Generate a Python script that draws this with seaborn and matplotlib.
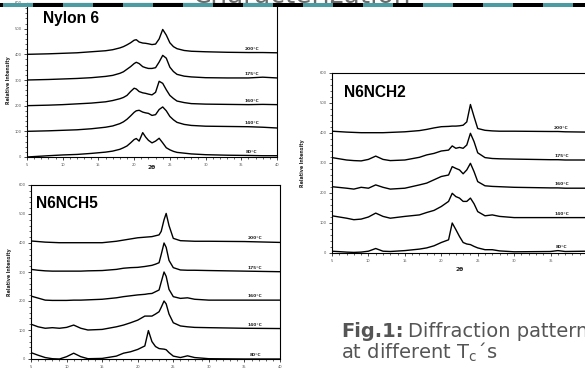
import numpy as np
import pandas as pd
import matplotlib
matplotlib.use("Agg")
import matplotlib.pyplot as plt
import seaborn as sns
from matplotlib.ticker import MultipleLocator
from matplotlib.patches import Rectangle

sns.set_theme(style="ticks")
plt.rcParams['font.family'] = ['DejaVu Sans']

# ---------------- data ----------------
TEMPS = ["200°C", "175°C", "160°C", "140°C", "80°C"]

# Nylon 6
X_NY = [5, 8, 10, 12, 14, 16, 17, 18, 18.5, 19, 19.5, 20, 20.3, 20.7, 21.2, 21.6,
        22, 22.5, 23, 23.5, 24, 24.5, 25, 25.5, 26, 27, 28, 30, 33, 36, 38, 40]
NY_200 = [400, 402, 404, 406, 410, 414, 418, 425, 430, 437, 445, 455, 457, 448, 444, 443,
          441, 438, 440, 460, 497, 475, 445, 430, 422, 415, 412, 410, 408, 407, 407, 406]
NY_175 = [300, 302, 304, 306, 309, 314, 318, 326, 332, 342, 352, 364, 369, 364, 352, 348,
          345, 345, 348, 370, 396, 385, 350, 333, 322, 315, 312, 309, 308, 308, 311, 308]
NY_160 = [200, 202, 204, 207, 210, 215, 220, 227, 232, 240, 255, 268, 265, 255, 250, 248,
          245, 242, 252, 295, 287, 262, 240, 228, 218, 212, 208, 206, 205, 204, 205, 204]
NY_140 = [100, 102, 104, 106, 110, 116, 121, 130, 137, 147, 160, 174, 180, 182, 175, 172,
          170, 162, 165, 185, 195, 180, 158, 145, 135, 127, 123, 120, 119, 118, 116, 113]
NY_80 = [0, 5, 8, 10, 14, 19, 23, 30, 36, 43, 55, 68, 72, 62, 95, 78,
         65, 55, 62, 73, 55, 36, 28, 22, 18, 15, 12, 9, 7, 6, 5, 5]

# N6NCH5
X_N5 = [5, 6, 7, 8, 9, 10, 11, 12, 13, 15, 17, 18, 19, 20, 21, 21.5, 22, 22.5, 23,
        23.3, 23.7, 24, 24.4, 25, 26, 27, 28, 30, 35, 40]
N5_200 = [407, 405, 403, 402, 401, 401, 401, 401, 401, 401, 406, 410, 414, 418, 420, 421,
          422, 425, 428, 440, 480, 502, 460, 416, 408, 407, 406, 406, 405, 402]
N5_175 = [309, 306, 304, 303, 303, 303, 303, 303, 304, 305, 309, 313, 315, 316, 319, 321,
          323, 327, 332, 360, 400, 385, 340, 315, 307, 306, 306, 305, 303, 301]
N5_160 = [217, 210, 203, 202, 202, 202, 203, 203, 204, 206, 211, 215, 218, 221, 223, 225,
          226, 232, 238, 265, 300, 285, 240, 215, 209, 211, 206, 203, 203, 203]
N5_140 = [120, 111, 106, 108, 106, 109, 117, 106, 100, 102, 111, 117, 125, 134, 148, 148,
          148, 155, 163, 178, 200, 190, 155, 125, 114, 111, 109, 108, 106, 105]
N5_80 = [22, 13, 5, 1, 0, 8, 20, 8, 1, 2, 10, 20, 25, 33, 45, 98,
         60, 43, 36, 35, 34, 32, 22, 10, 5, 11, 5, 1, 0, 0]

# N6NCH2
X_N2 = [5, 7, 8, 9, 10, 11, 12, 13, 15, 17, 18, 19, 20, 21, 21.5, 22, 22.5, 23, 23.5,
        24, 24.5, 25, 26, 27, 28, 30, 35, 36, 37, 40]
N2_200 = [406, 403, 402, 401, 401, 401, 401, 402, 404, 408, 412, 417, 421, 422, 423, 423,
          424, 426, 437, 495, 454, 415, 409, 407, 406, 406, 405, 405, 404, 403]
N2_175 = [318, 310, 308, 307, 312, 323, 312, 308, 310, 319, 327, 332, 340, 343, 357, 349,
          352, 349, 360, 399, 371, 334, 318, 315, 314, 313, 311, 311, 310, 310]
N2_160 = [221, 216, 213, 219, 216, 227, 219, 213, 216, 227, 233, 244, 255, 260, 288, 282,
          277, 264, 277, 299, 271, 238, 224, 222, 221, 219, 217, 217, 216, 216]
N2_140 = [124, 116, 111, 113, 120, 133, 122, 116, 122, 127, 135, 142, 155, 172, 199, 188,
          183, 172, 172, 183, 164, 138, 124, 127, 122, 118, 118, 118, 118, 118]
N2_80 = [6, 3, 2, 3, 6, 15, 6, 5, 8, 13, 17, 24, 35, 44, 100, 78,
         55, 35, 30, 28, 22, 17, 11, 11, 7, 4, 5, 8, 5, 6]

PANELS = [
    ("Nylon 6", X_NY, [NY_200, NY_175, NY_160, NY_140, NY_80]),
    ("N6NCH5", X_N5, [N5_200, N5_175, N5_160, N5_140, N5_80]),
    ("N6NCH2", X_N2, [N2_200, N2_175, N2_160, N2_140, N2_80]),
]

# ---------------- figure ----------------
W, H = 585, 368
fig = plt.figure(figsize=(W / 100, H / 100), dpi=100)
fig.patch.set_facecolor("white")


def fx(px):
    return px / W


def fy(py):
    return 1 - py / H


LAYOUT = [
    dict(box=(27, 3, 277, 157), ylab=-0.064, xlab=-0.055, title=(43, 23.3), show_xlab=True),
    dict(box=(31, 185, 280, 359), ylab=-0.076, xlab=-0.07, title=(36, 208.3), show_xlab=False),
    dict(box=(332, 73, 587, 253), ylab=-0.106, xlab=-0.078, title=(344, 96.7), show_xlab=True),
]

TICK_COLOR = "#555555"

for (name, xs, series), lay in zip(PANELS, LAYOUT):
    l, t, r, b = lay["box"]
    ax = fig.add_axes([fx(l), fy(b), fx(r) - fx(l), fy(t) - fy(b)])
    rows = []
    for temp, ys in zip(TEMPS, series):
        for xv, yv in zip(xs, ys):
            rows.append((xv, yv, temp))
    df = pd.DataFrame(rows, columns=["two_theta", "intensity", "Tc"])
    sns.lineplot(data=df, x="two_theta", y="intensity", hue="Tc",
                 palette=["black"] * len(TEMPS), hue_order=TEMPS,
                 legend=False, linewidth=1.0, ax=ax, sort=False)
    ax.set_xlim(5, 40)
    ax.set_ylim(0, 600)
    ax.xaxis.set_major_locator(MultipleLocator(5))
    ax.xaxis.set_minor_locator(MultipleLocator(1))
    ax.yaxis.set_major_locator(MultipleLocator(100))
    ax.yaxis.set_minor_locator(MultipleLocator(20))
    ax.tick_params(which="major", labelsize=2.6, labelcolor=TICK_COLOR,
                   length=2.0, width=0.6, pad=2, direction="out")
    ax.tick_params(which="minor", length=1.2, width=0.5, direction="out")
    for s in ax.spines.values():
        s.set_linewidth(0.8)
        s.set_color("black")
    ax.set_ylabel("Relative Intensity", fontsize=3.4, fontweight="bold")
    ax.yaxis.set_label_coords(lay["ylab"], 0.5)
    if lay["show_xlab"]:
        ax.set_xlabel("2θ", fontsize=4.2, fontweight="bold")
        ax.xaxis.set_label_coords(0.5, lay["xlab"])
    else:
        ax.set_xlabel("")
    for temp, ys in zip(TEMPS, series):
        yv = np.interp(36.5, xs, ys)
        ax.annotate(temp, xy=(36.5, yv), xytext=(0, 1.2), textcoords="offset points",
                    ha="center", va="bottom", fontsize=3.2, fontweight="bold")
    fig.text(fx(lay["title"][0]), fy(lay["title"][1]), name,
             fontsize=11.2, fontweight="bold", family=["Liberation Sans", "DejaVu Sans"],
             ha="left", va="baseline", color="black")

# header title (mostly hidden above the top edge) and striped bar
fig.text(fx(302), fy(3.2), "Characterization", fontsize=19, color="#6a6a6a",
         ha="center", va="baseline", zorder=1)
fig.patches.append(Rectangle((0, fy(7.3)), 1, fy(3.3) - fy(7.3), transform=fig.transFigure,
                             facecolor="black", edgecolor="none", zorder=5))
for k in range(10):
    x0 = 3 + 60 * k
    fig.patches.append(Rectangle((fx(x0), fy(7.3)), fx(30), fy(3.3) - fy(7.3),
                                 transform=fig.transFigure, facecolor="#4b9ca2",
                                 edgecolor="none", zorder=6))

# caption
cap1 = fig.text(fx(341), fy(337), "Fig.1:", fontsize=14, fontweight="bold",
                color="#555555", ha="left", va="baseline")
fig.canvas.draw()
bb = cap1.get_window_extent()
fig.text(bb.x1 / W + fx(5), fy(337), "Diffraction pattern", fontsize=14,
         color="#555555", ha="left", va="baseline")
fig.text(fx(341), fy(359), r"at different T$_{\mathregular{c}}$´s", fontsize=14,
         color="#555555", ha="left", va="baseline")

fig.savefig("out.png", dpi=100)
